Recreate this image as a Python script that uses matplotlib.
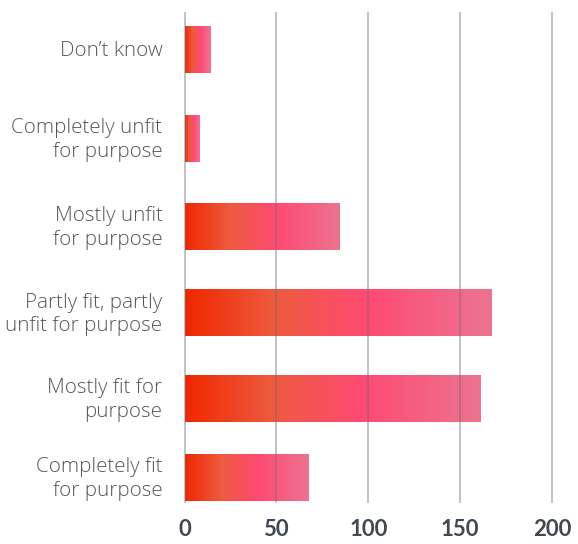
import matplotlib
matplotlib.use("Agg")
import matplotlib.pyplot as plt
import numpy as np
from matplotlib.colors import LinearSegmentedColormap

# Survey responses (top to bottom)
categories = [
    "Don\u2019t know",
    "Completely unfit\nfor purpose",
    "Mostly unfit\nfor purpose",
    "Partly fit, partly\nunfit for purpose",
    "Mostly fit for\npurpose",
    "Completely fit\nfor purpose",
]
counts = [14, 8, 84, 167, 161, 67]
x_ticks = [0, 50, 100, 150, 200]

# Layout: row centres (in axis units, top = 0) and bar thickness
row_centres = [36.5, 125.5, 213.5, 300, 385.5, 464.5]
bar_height = 47
y_span = 489

grad = LinearSegmentedColormap.from_list(
    "bar_grad",
    [(0.0, "#F02800"), (0.29, "#EE5A3E"), (0.6, "#FF4A74"), (1.0, "#EC7490")],
)

W, H, DPI = 578, 544, 100
fig = plt.figure(figsize=(W / DPI, H / DPI), dpi=DPI)
left_px, right_px = 184.5, 552
top_px, bottom_px = 13, 502
ax = fig.add_axes([left_px / W, 1 - bottom_px / H,
                   (right_px - left_px) / W, (bottom_px - top_px) / H])

ramp = np.linspace(0, 1, 256).reshape(1, -1)
for yc, v in zip(row_centres, counts):
    ax.imshow(ramp, cmap=grad, aspect="auto", interpolation="bilinear",
              extent=[0, v, yc + bar_height / 2, yc - bar_height / 2], zorder=1)

ax.set_xlim(0, 200)
ax.set_ylim(y_span, 0)

for t in x_ticks:
    ax.axvline(t, color="#6e6e6e", alpha=0.45, lw=1.3, zorder=3, clip_on=False)

for s in ax.spines.values():
    s.set_visible(False)
ax.set_yticks([])
ax.set_xticks(x_ticks)
ax.set_xticklabels([str(t) for t in x_ticks], fontsize=16, fontweight="bold",
                   color="#424852", family=["Lato", "DejaVu Sans"])
ax.tick_params(axis="x", length=0, pad=12)

for yc, lab in zip(row_centres, categories):
    ax.text(-12.0, yc + 1.5, lab, ha="right", va="center", fontsize=14.8,
            color="#53575c", family=["Open Sans", "DejaVu Sans"],
            fontweight="light", linespacing=1.22, clip_on=False)

fig.savefig("out.png", dpi=DPI)
